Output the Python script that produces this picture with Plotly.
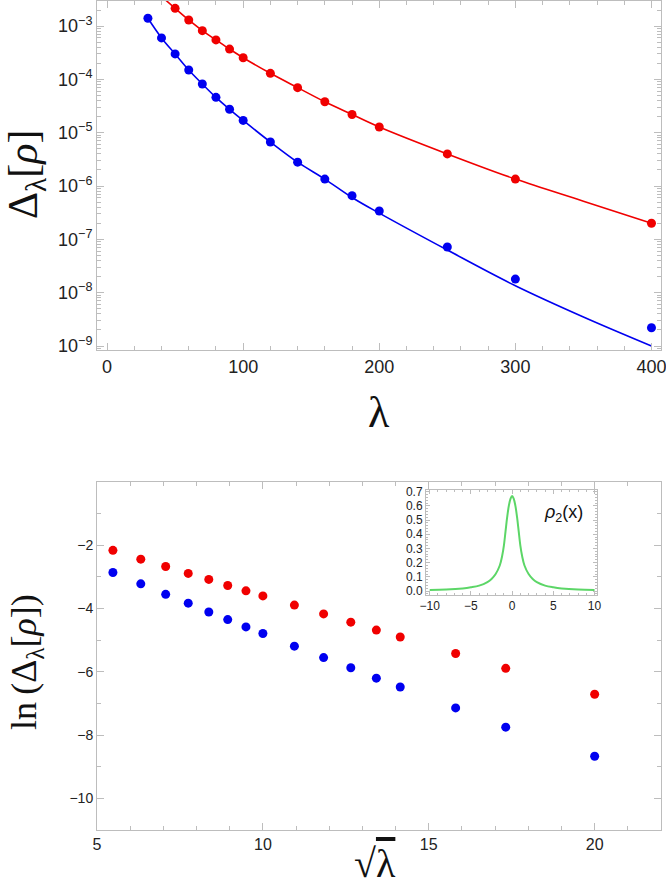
import plotly.graph_objects as go

# ---------------- data ----------------
lam_blue = [30, 40, 50, 60, 70, 80, 90, 100, 120, 140, 160, 180, 200, 250, 300, 400]
delta_blue = [1.4e-3, 6.0e-4, 3.0e-4, 1.5e-4, 8.2e-5, 4.6e-5, 2.75e-5, 1.7e-5,
              6.7e-6, 2.8e-6, 1.35e-6, 6.6e-7, 3.4e-7, 7.2e-8, 1.8e-8, 2.2e-9]
lam_red = [50, 60, 70, 80, 90, 100, 120, 140, 160, 180, 200, 250, 300, 400]
delta_red = [2.15e-3, 1.3e-3, 8.2e-4, 5.5e-4, 3.7e-4, 2.55e-4, 1.3e-4, 7.0e-5,
             3.8e-5, 2.2e-5, 1.28e-5, 4.0e-6, 1.35e-6, 2.0e-7]

fit_lam_blue = [30, 40, 50, 60, 70, 80, 90, 100, 120, 140, 160, 180, 200, 250, 300, 350, 400]
fit_blue = [1.4e-3, 6.0e-4, 3.0e-4, 1.5e-4, 8.2e-5, 4.6e-5, 2.75e-5, 1.7e-5, 6.7e-6,
            2.8e-6, 1.35e-6, 6.1e-7, 3.1e-7, 6.3e-8, 1.35e-8, 3.5e-9, 1.0e-9]
fit_lam_red = [40, 50, 60, 70, 80, 90, 100, 120, 140, 160, 180, 200, 250, 300, 350, 400]
fit_red = [3.6e-3, 2.15e-3, 1.3e-3, 8.2e-4, 5.5e-4, 3.7e-4, 2.55e-4, 1.3e-4, 7.0e-5,
           3.8e-5, 2.2e-5, 1.28e-5, 4.0e-6, 1.35e-6, 5.2e-7, 2.0e-7]

sqrt_lam = [5.48, 6.32, 7.07, 7.75, 8.37, 8.94, 9.49, 10.0, 10.95, 11.83, 12.65,
            13.42, 14.14, 15.81, 17.32, 20.0]
ln_red = [-2.16, -2.44, -2.67, -2.89, -3.08, -3.27, -3.44, -3.60, -3.89, -4.17,
          -4.43, -4.68, -4.90, -5.42, -5.89, -6.71]
ln_blue = [-2.86, -3.22, -3.55, -3.83, -4.11, -4.35, -4.58, -4.79, -5.19, -5.55,
           -5.87, -6.20, -6.48, -7.14, -7.75, -8.67]

inset_x = [-10, -8, -6, -5, -4, -3, -2.5, -2, -1.5, -1.2, -1, -0.8, -0.6, -0.4, -0.2, 0,
           0.2, 0.4, 0.6, 0.8, 1, 1.2, 1.5, 2, 2.5, 3, 4, 5, 6, 8, 10]
inset_y = [0.007, 0.010, 0.018, 0.026, 0.038, 0.063, 0.085, 0.12, 0.18, 0.25, 0.32, 0.42,
           0.52, 0.60, 0.65, 0.67,
           0.65, 0.60, 0.52, 0.42, 0.32, 0.25, 0.18, 0.12, 0.085, 0.063, 0.038, 0.026,
           0.018, 0.010, 0.007]

top_ytick_vals = [1e-9, 1e-8, 1e-7, 1e-6, 1e-5, 1e-4, 1e-3]
top_ytick_text = ["10<sup>\u22129</sup>", "10<sup>\u22128</sup>", "10<sup>\u22127</sup>",
                  "10<sup>\u22126</sup>", "10<sup>\u22125</sup>", "10<sup>\u22124</sup>",
                  "10<sup>\u22123</sup>"]
top_minor_vals = [m * 10.0 ** e for e in range(-10, -1) for m in range(2, 10)]

RED = "#f00000"
BLUE = "#0000f0"
FRAME = "#bdbdbd"

fig = go.Figure()

# top panel
fig.add_trace(go.Scatter(x=fit_lam_red, y=fit_red, mode="lines", line=dict(color=RED, width=1.6, shape="spline"),
                         xaxis="x", yaxis="y", showlegend=False))
fig.add_trace(go.Scatter(x=fit_lam_blue, y=fit_blue, mode="lines", line=dict(color=BLUE, width=1.6, shape="spline"),
                         xaxis="x", yaxis="y", showlegend=False))
fig.add_trace(go.Scatter(x=lam_red, y=delta_red, mode="markers", marker=dict(color=RED, size=9),
                         xaxis="x", yaxis="y", showlegend=False))
fig.add_trace(go.Scatter(x=lam_blue, y=delta_blue, mode="markers", marker=dict(color=BLUE, size=9),
                         xaxis="x", yaxis="y", showlegend=False))

# bottom panel
fig.add_trace(go.Scatter(x=sqrt_lam, y=ln_red, mode="markers", marker=dict(color=RED, size=9),
                         xaxis="x2", yaxis="y2", showlegend=False))
fig.add_trace(go.Scatter(x=sqrt_lam, y=ln_blue, mode="markers", marker=dict(color=BLUE, size=9),
                         xaxis="x2", yaxis="y2", showlegend=False))

# inset
fig.add_trace(go.Scatter(x=inset_x, y=inset_y, mode="lines", line=dict(color="#5cd667", width=2, shape="spline"),
                         xaxis="x3", yaxis="y3", showlegend=False))

common = dict(showline=True, linecolor=FRAME, linewidth=1, mirror="ticks", ticks="inside",
              tickcolor=FRAME, showgrid=False, zeroline=False, ticklabeloverflow="allow")

H = 888
ML, MR, MT, MB = 97, 5, 1, 58
ph = H - MT - MB


def py(pix):
    return (H - MB - pix) / ph


def px(pix):
    return (pix - ML) / (666 - ML - MR)


fig.update_layout(
    width=666, height=888,
    margin=dict(l=ML, r=MR, t=MT, b=MB, autoexpand=False),
    paper_bgcolor="white", plot_bgcolor="white",
    font=dict(family="Liberation Sans, Arial, sans-serif", color="#222"),
    xaxis=dict(domain=[0, 1], anchor="y", range=[-7.4, 407], tickvals=[0, 100, 200, 300, 400],
               ticklen=7, tickfont=dict(size=18),
               minor=dict(ticks="inside", dtick=20, tick0=0, ticklen=4, tickcolor=FRAME), **common),
    yaxis=dict(domain=[py(350), 1], anchor="x", type="log", range=[-9.075, -2.53],
               tickvals=top_ytick_vals, ticktext=top_ytick_text, ticklen=7, tickfont=dict(size=18),
               minor=dict(ticks="inside", tickvals=top_minor_vals, ticklen=4, tickcolor=FRAME), **common),
    xaxis2=dict(domain=[0, 1], anchor="y2", range=[5, 22], tickvals=[5, 10, 15, 20], ticklen=7,
                tickfont=dict(size=16),
                minor=dict(ticks="inside", dtick=1, tick0=5, ticklen=4, tickcolor=FRAME), **common),
    yaxis2=dict(domain=[0, py(482)], anchor="x2", range=[-11, 0], tickvals=[-10, -8, -6, -4, -2],
                ticklen=7, tickfont=dict(size=14),
                minor=dict(ticks="inside", dtick=1, tick0=0, ticklen=4, tickcolor=FRAME), **common),
    xaxis3=dict(domain=[px(426), px(597)], anchor="y3", range=[-10.45, 10.3], tickvals=[-10, -5, 0, 5, 10],
                ticklen=4, tickfont=dict(size=12), tickangle=0,
                minor=dict(ticks="inside", dtick=1, ticklen=2, tickcolor=FRAME), **common),
    yaxis3=dict(domain=[py(595), py(490)], anchor="x3", range=[-0.028, 0.712],
                tickvals=[0, 0.1, 0.2, 0.3, 0.4, 0.5, 0.6, 0.7], tickformat=".1f",
                ticklen=4, tickfont=dict(size=12),
                minor=dict(ticks="inside", dtick=0.02, ticklen=2, tickcolor=FRAME), **common),
)

serif = "Liberation Serif, Times New Roman, serif"
annotations = [
    dict(text="\u0394<sub>\u03bb</sub>[<i>\u03c1</i>]", x=px(26), y=py(175), xref="paper", yref="paper",
         textangle=-90, showarrow=False, font=dict(family=serif, size=42, color="#111"),
         xanchor="center", yanchor="middle"),
    dict(text="\u03bb", x=0.5, y=py(412), xref="paper", yref="paper", showarrow=False,
         font=dict(family=serif, size=44, color="#111"), xanchor="center", yanchor="middle"),
    dict(text="ln\u2009(\u0394<sub>\u03bb</sub>[<i>\u03c1</i>])", x=px(26), y=py(662), xref="paper", yref="paper",
         textangle=-90, showarrow=False, font=dict(family=serif, size=36, color="#111"),
         xanchor="center", yanchor="middle"),
    dict(text="\u221a<span style='text-decoration:overline'>\u03bb</span>", x=px(375), y=py(864),
         xref="paper", yref="paper", showarrow=False,
         font=dict(family=serif, size=40, color="#111"), xanchor="center", yanchor="middle"),
    dict(text="<i>\u03c1</i><sub>2</sub>(x)", x=px(563), y=py(513), xref="paper", yref="paper",
         showarrow=False, font=dict(family="Liberation Sans, Arial, sans-serif", size=18, color="#111"),
         xanchor="center", yanchor="middle"),
]
fig.update_layout(annotations=annotations)

fig.write_html("out.html", config={"displayModeBar": False},
               post_script="document.body.style.margin='0';document.body.style.overflow='hidden';")
